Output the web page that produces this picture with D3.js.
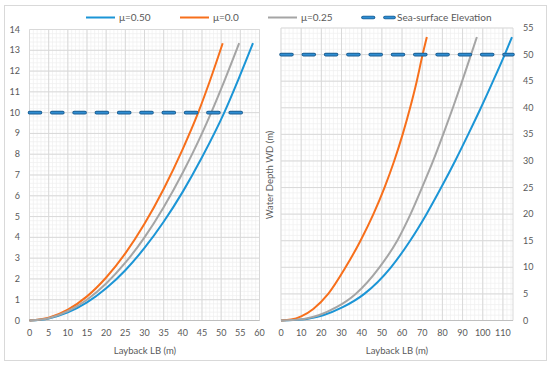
<!DOCTYPE html>
<html>
<head>
<meta charset="utf-8">
<script src="https://cdn.jsdelivr.net/npm/d3@7"></script>
<style>
  body { margin: 0; background: #fff; }
  text { font-family: Lato, "Open Sans", sans-serif; fill: #595959; }
</style>
</head>
<body>
<div id="chart"></div>
<script>
// legend / series names
const seriesNames = ['μ=0.50', 'μ=0.0', 'μ=0.25'];
const seaName = 'Sea-surface Elevation';
const seriesColors = ['#1b95d6', '#f76f1b', '#a5a5a5'];

// left panel: layback (m) vs depth (m)
const leftMu050 = [[0,0],[5,0.1],[10,0.39],[15,0.87],[20,1.55],[25,2.42],[30,3.49],[35,4.75],[40,6.2],[45,7.85],[50.8,10],[54.5,11.6],[58.3,13.34]];
const leftMu000 = [[0,0],[5,0.13],[10,0.52],[15,1.16],[20,2.07],[25,3.23],[30,4.65],[35,6.33],[40,8.26],[44,10],[47,11.5],[50.4,13.34]];
const leftMu025 = [[0,0],[5,0.11],[10,0.45],[15,1.0],[20,1.78],[25,2.78],[30,4.0],[35,5.45],[40,7.12],[45,9.0],[47.4,10],[51,11.6],[54.7,13.34]];
const leftSea = [[0,10],[55.5,10]];

// right panel
const rightMu050 = [[0,0],[6,0.08],[12.7,0.3],[20.9,1],[30.6,2.5],[41.3,5],[54.5,10],[64,15],[72.1,20],[79.4,25],[86.3,30],[92.8,35],[99.1,40],[105.1,45],[110.9,50],[114.5,53.3]];
const rightMu000 = [[0,0],[5,0.17],[10,0.77],[16,2.17],[23.4,5],[32,10],[39.4,15],[45.8,20],[51.3,25],[56.1,30],[60.3,35],[64,40],[67.3,45],[70.2,50],[72.3,53.3]];
const rightMu025 = [[0,0],[5.5,0.08],[11.4,0.3],[18.7,1],[27.5,2.5],[37,5],[48.8,10],[57.6,15],[64.2,20],[69.9,25],[75.4,30],[80.4,35],[85.2,40],[89.8,45],[94.2,50],[97.1,53.3]];
const rightSea = [[0,50],[115,50]];

const leftXTicks = d3.range(0, 61, 5);
const leftYTicks = d3.range(0, 15, 1);
const rightXTicks = d3.range(0, 111, 10);
const rightYTicks = d3.range(0, 56, 5);

const width = 550, height = 366;

const svg = d3.select('#chart').append('svg')
  .attr('width', width)
  .attr('height', height);

// chart border
svg.append('rect')
  .attr('x', 4.5).attr('y', 5.5)
  .attr('width', 542).attr('height', 355)
  .attr('fill', '#fff')
  .attr('stroke', '#d9d9d9');

const panels = [
  {
    x: d3.scaleLinear().domain([0, 60]).range([29.5, 259.5]),
    y: d3.scaleLinear().domain([0, 14]).range([320.5, 29.5]),
    xMinor: d3.range(0, 60.01, 1), yMinor: d3.range(0, 14.01, 0.2),
    xTicks: leftXTicks, yTicks: leftYTicks, ySide: 'left',
    series: [leftMu050, leftMu000, leftMu025], sea: leftSea
  },
  {
    x: d3.scaleLinear().domain([0, 115]).range([281, 513]),
    y: d3.scaleLinear().domain([0, 55]).range([320.5, 28]),
    xMinor: d3.range(0, 115.01, 2), yMinor: d3.range(0, 55.01, 1),
    xTicks: rightXTicks, yTicks: rightYTicks, ySide: 'right',
    series: [rightMu050, rightMu000, rightMu025], sea: rightSea
  }
];

panels.forEach(p => {
  const g = svg.append('g');
  const [x0, x1] = p.x.range();
  const [y0, y1] = p.y.range();

  // minor grid
  g.append('g').selectAll('line').data(p.xMinor).join('line')
    .attr('x1', d => p.x(d)).attr('x2', d => p.x(d))
    .attr('y1', y0).attr('y2', y1)
    .attr('stroke', '#efefef').attr('stroke-width', 0.7);
  g.append('g').selectAll('line').data(p.yMinor).join('line')
    .attr('x1', x0).attr('x2', x1)
    .attr('y1', d => p.y(d)).attr('y2', d => p.y(d))
    .attr('stroke', '#efefef').attr('stroke-width', 0.7);

  // major grid
  const xMajor = d3.range(p.x.domain()[0], p.x.domain()[1] + 0.01, p.xTicks[1] - p.xTicks[0]);
  g.append('g').selectAll('line').data(xMajor).join('line')
    .attr('x1', d => p.x(d)).attr('x2', d => p.x(d))
    .attr('y1', y0).attr('y2', y1)
    .attr('stroke', '#d9d9d9');
  g.append('g').selectAll('line').data(p.yTicks).join('line')
    .attr('x1', x0).attr('x2', x1)
    .attr('y1', d => p.y(d)).attr('y2', d => p.y(d))
    .attr('stroke', '#d9d9d9');
  // right edge of plot area
  g.append('line')
    .attr('x1', x1).attr('x2', x1).attr('y1', y0).attr('y2', y1)
    .attr('stroke', '#d9d9d9');

  // x axis line
  g.append('line')
    .attr('x1', x0).attr('x2', x1).attr('y1', y0).attr('y2', y0)
    .attr('stroke', '#bfbfbf');

  // tick labels
  g.append('g').selectAll('text').data(p.xTicks).join('text')
    .attr('x', d => p.x(d)).attr('y', 336)
    .attr('text-anchor', 'middle')
    .attr('font-size', 9)
    .text(d => d);
  g.append('g').selectAll('text').data(p.yTicks).join('text')
    .attr('x', p.ySide === 'left' ? 20 : 523)
    .attr('y', d => p.y(d) + 3)
    .attr('text-anchor', p.ySide === 'left' ? 'end' : 'start')
    .attr('font-size', 9)
    .text(d => d);

  // curves
  const line = d3.line().x(d => p.x(d[0])).y(d => p.y(d[1])).curve(d3.curveMonotoneX);
  p.series.forEach((s, i) => {
    g.append('path')
      .datum(s)
      .attr('d', line)
      .attr('fill', 'none')
      .attr('stroke', seriesColors[i])
      .attr('stroke-width', 2);
  });

  // sea surface (outlined dashed line)
  const seaLine = d3.line().x(d => p.x(d[0])).y(d => p.y(d[1]));
  g.append('path').datum(p.sea).attr('d', seaLine)
    .attr('fill', 'none').attr('stroke', '#1e5f92').attr('stroke-width', 3.6)
    .attr('stroke-dasharray', '11,11.3').attr('stroke-linecap', 'round');
  g.append('path').datum(p.sea).attr('d', seaLine)
    .attr('fill', 'none').attr('stroke', '#2f8ed3').attr('stroke-width', 1.8)
    .attr('stroke-dasharray', '11,11.3').attr('stroke-linecap', 'round');
});

// axis titles
svg.append('text').attr('x', 145).attr('y', 354).attr('text-anchor', 'middle')
  .attr('font-size', 9.5).text('Layback LB (m)');
svg.append('text').attr('x', 397).attr('y', 354).attr('text-anchor', 'middle')
  .attr('font-size', 9.5).text('Layback LB (m)');
svg.append('text')
  .attr('transform', 'translate(273,175) rotate(-90)')
  .attr('text-anchor', 'middle')
  .attr('font-size', 9.5).text('Water Depth WD (m)');

// legend
const legend = svg.append('g');
const legendX = [86, 180, 268];
seriesNames.forEach((name, i) => {
  legend.append('line')
    .attr('x1', legendX[i]).attr('x2', legendX[i] + 29)
    .attr('y1', 17.5).attr('y2', 17.5)
    .attr('stroke', seriesColors[i]).attr('stroke-width', 2);
  legend.append('text')
    .attr('x', legendX[i] + 33).attr('y', 21)
    .attr('font-size', 10).text(name);
});
[[363, 373.5], [385, 394]].forEach(([a, b]) => {
  legend.append('line').attr('x1', a).attr('x2', b).attr('y1', 17.5).attr('y2', 17.5)
    .attr('stroke', '#1e5f92').attr('stroke-width', 3.6).attr('stroke-linecap', 'round');
  legend.append('line').attr('x1', a).attr('x2', b).attr('y1', 17.5).attr('y2', 17.5)
    .attr('stroke', '#2f8ed3').attr('stroke-width', 1.8).attr('stroke-linecap', 'round');
});
legend.append('text').attr('x', 397).attr('y', 21)
  .attr('font-size', 10).text(seaName);
</script>
</body>
</html>
